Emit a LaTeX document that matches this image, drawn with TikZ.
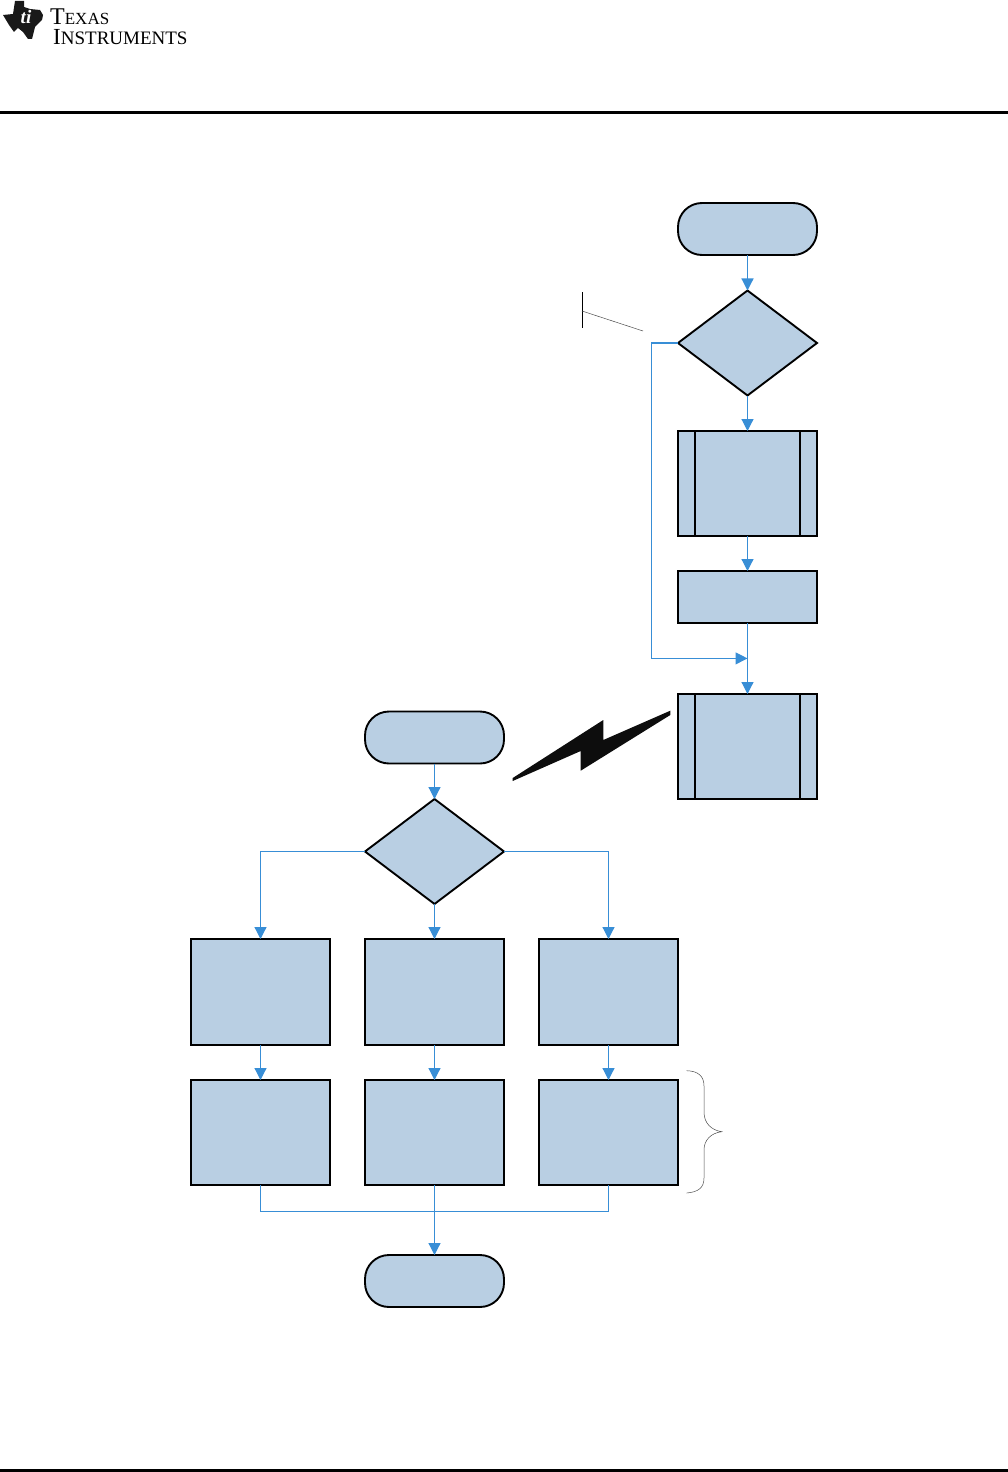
\documentclass[tikz,border=0pt]{standalone}
\usepackage{fontspec}
\setmainfont{Liberation Serif}
\usetikzlibrary{arrows.meta,shapes.geometric}

\definecolor{boxfill}{RGB}{185,207,227}
\definecolor{flowblue}{RGB}{56,142,214}

\tikzset{
  flowbox/.style={draw=black, line width=1.9pt, fill=boxfill, minimum width=139pt, inner sep=0pt, outer sep=0pt},
  termbox/.style={flowbox, rounded corners=24pt, minimum height=52pt},
  decbox/.style={flowbox, diamond, minimum height=105pt},
  procbox/.style={flowbox, minimum height=105pt},
  flowline/.style={draw=flowblue, line width=1.2pt},
  flowarrow/.style={flowline, -{Triangle[length=12pt,width=12pt]}},
  thinmark/.style={draw=black!70, line width=0.5pt}
}

\begin{document}
\begin{tikzpicture}[x=1pt, y=-1pt]
\useasboundingbox (0,0) rectangle (1008,1472);

% Page header and footer
\fill[black] (0,110.5) rectangle (1008,113.5);
\fill[black] (0,1469) rectangle (1008,1472);
\fill[black!90] (3,15) -- (13,14) -- (15,1) -- (24,1) -- (24,7) -- (30,9) -- (40,10) -- (43,15) -- (42,20) -- (35,27) -- (32,39) -- (28,39) -- (23,32) -- (18,28) -- (14,32) -- (9,25) -- cycle;
\node[white, font=\bfseries\itshape\fontsize{19}{19}\selectfont] (logomark) at (26,17) {ti};
\node[anchor=north west, inner sep=0pt, align=left] (logotext) at (50,8.5) {\fontsize{24}{19.5}\selectfont T\fontsize{17}{19.5}\selectfont EXAS\\[3.5pt]\hspace*{3pt}\fontsize{23}{19.5}\selectfont I\fontsize{19}{19.5}\selectfont NSTRUMENTS};

% Upper branch
\node[termbox] (start1) at (747.5,229) {};
\node[decbox] (dec1) at (747.5,343) {};
\node[procbox] (pred1) at (747.5,483.5) {};
\node[flowbox, minimum height=52pt] (proc1) at (747.5,597) {};
\node[procbox] (pred2) at (747.5,746.5) {};
\foreach \n in {pred1, pred2} {
  \draw[line width=1.9pt] ([xshift=17pt]\n.north west) -- ([xshift=17pt]\n.south west);
  \draw[line width=1.9pt] ([xshift=-17pt]\n.north east) -- ([xshift=-17pt]\n.south east);
}
\coordinate (merge1) at (747.5,658.4);
\draw[flowarrow] (start1) -- (dec1);
\draw[flowarrow] (dec1) -- (pred1);
\draw[flowarrow] (pred1) -- (proc1);
\draw[flowarrow] (proc1) -- (pred2);
\draw[flowarrow] (dec1.west) -- (651.8,343) |- (merge1);

% Marker beside the decision
\coordinate (markA) at (582,292);
\coordinate (markB) at (582,328);
\coordinate (markC) at (582,311);
\coordinate (markD) at (643,331);
\draw[line width=0.9pt] (markA) -- (markB);
\draw[thinmark] (markC) -- (markD);

% Lightning bolt
\fill[black!95] (512.7,778) -- (603.3,720) -- (603.3,740) -- (670.3,710.7) -- (670.3,715) -- (580.7,770.7) -- (580.7,751) -- (512.7,781) -- cycle;

% Lower branch
\node[termbox] (start2) at (434.5,737.5) {};
\node[decbox] (dec2) at (434.5,851.5) {};
\node[procbox, minimum height=106pt] (case1) at (260.5,992) {};
\node[procbox, minimum height=106pt] (case2) at (434.5,992) {};
\node[procbox, minimum height=106pt] (case3) at (608.5,992) {};
\node[procbox] (next1) at (260.5,1132.5) {};
\node[procbox] (next2) at (434.5,1132.5) {};
\node[procbox] (next3) at (608.5,1132.5) {};
\node[termbox] (end2) at (434.5,1281) {};
\draw[flowarrow] (start2) -- (dec2);
\draw[flowarrow] (dec2) -- (case2);
\draw[flowarrow] (dec2.west) -| (case1.north);
\draw[flowarrow] (dec2.east) -| (case3.north);
\foreach \i in {1,2,3} {
  \draw[flowarrow] (case\i) -- (next\i);
}
\coordinate (join2) at (434.5,1211.5);
\draw[flowline] (next1.south) |- (join2) -| (next3.south);
\draw[flowarrow] (next2) -- (end2);

% Brace
\draw[thinmark] (686.7,1070.7) .. controls (698,1071) and (704,1076) .. (704,1086) -- (704,1112) .. controls (704,1123) and (711,1130) .. (721.7,1131.7) .. controls (711,1133) and (704,1140) .. (704,1150) -- (704,1178) .. controls (704,1188) and (698,1192) .. (686.7,1193);

\end{tikzpicture}
\end{document}
